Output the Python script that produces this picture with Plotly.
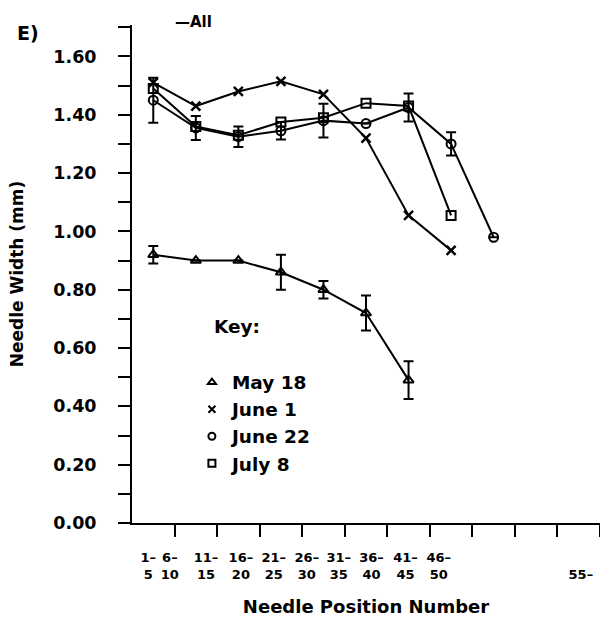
import plotly.graph_objects as go

# ---- data ----
categories = ["1-5", "6-10", "11-15", "16-20", "21-25", "26-30", "31-35",
              "36-40", "41-45", "46-50", "55-"]
tick_text = ["1\u2013<br>5", "6\u2013<br>10", "11\u2013<br>15", "16\u2013<br>20",
             "21\u2013<br>25", "26\u2013<br>30", "31\u2013<br>35", "36\u2013<br>40",
             "41\u2013<br>45", "46\u2013<br>50", " <br>55\u2013"]
# label positions as printed (scanned figure labels are compressed)
tick_label_pos = [0.38, 0.89, 1.74, 2.56, 3.33, 4.11, 4.86, 5.63, 6.43, 7.21, 10.55]

may18 = [0.92, 0.90, 0.90, 0.86, 0.80, 0.72, 0.49]
may18_err = [0.03, 0, 0, 0.06, 0.03, 0.06, 0.065]
june1 = [1.51, 1.43, 1.48, 1.515, 1.47, 1.32, 1.055, 0.935]
june22 = [1.45, 1.355, 1.325, 1.345, 1.38, 1.37, 1.425, 1.30, 0.98]
june22_err = [0.077, 0.041, 0.035, 0.03, 0.058, 0, 0.048, 0.04, 0]
july8 = [1.49, 1.36, 1.33, 1.375, 1.39, 1.44, 1.43, 1.055]

series = [
    ("May 18", may18, may18_err, "triangle-up-open"),
    ("June 1", june1, None, "x-thin-open"),
    ("June 22", june22, june22_err, "circle-open"),
    ("July 8", july8, None, "square-open"),
]

FONT = "DejaVu Sans"
fig = go.Figure()

for name, vals, err, sym in series:
    xs = [i + 0.5 for i in range(len(vals))]
    kw = {}
    if err is not None:
        kw["error_y"] = dict(type="data", array=err, visible=True,
                             color="black", thickness=2, width=5)
    fig.add_trace(go.Scatter(
        x=xs, y=vals, mode="lines+markers", name=name, showlegend=False,
        line=dict(color="black", width=2),
        marker=dict(symbol=sym, size=9, color="black",
                    line=dict(color="black", width=2.5 if sym.startswith("x") else 2)),
        **kw))
    # legend key entry (marker only)
    fig.add_trace(go.Scatter(
        x=[None], y=[None], mode="markers", name=name, showlegend=True,
        marker=dict(symbol=sym, size=7, color="black",
                    line=dict(color="black", width=2))))

fig.update_layout(
    width=600, height=619,
    margin=dict(l=132, r=0, t=25, b=96),
    paper_bgcolor="white", plot_bgcolor="white",
    font=dict(family=FONT, color="black", size=18, weight="bold"),
    showlegend=True,
    legend=dict(x=0.128, y=0.32, xanchor="left", yanchor="top",
                bgcolor="rgba(0,0,0,0)",
                font=dict(size=18.5, family=FONT, weight="bold"),
                itemclick=False),
    xaxis=dict(range=[0, 11.0], tickmode="array",
               tickvals=list(range(1, 12)), showticklabels=False,
               ticks="outside", ticklen=12, tickwidth=2, tickcolor="black",
               showline=True, linewidth=2, linecolor="black",
               showgrid=False, zeroline=False,
               title=dict(text="Needle Position Number", standoff=64,
                          font=dict(size=18, family=FONT, weight="bold"))),
    xaxis2=dict(range=[0, 11.0], overlaying="x", side="bottom",
                tickmode="array", tickvals=tick_label_pos, ticktext=tick_text,
                ticks="", ticklen=0, showline=False, showgrid=False,
                zeroline=False,
                tickfont=dict(size=13, family=FONT, weight="bold"),
                ticklabelstandoff=25),
    yaxis=dict(range=[0, 1.708], tickmode="linear", tick0=0, dtick=0.2,
               tickformat=".2f", ticks="outside", ticklen=12, tickwidth=2,
               tickcolor="black", showline=True, linewidth=2,
               linecolor="black", showgrid=False, zeroline=False,
               ticklabelstandoff=18,
               tickfont=dict(size=17.5, family=FONT, weight="bold"),
               minor=dict(dtick=0.1, ticks="outside", ticklen=12,
                          tickwidth=2, tickcolor="black", showgrid=False),
               title=dict(text="Needle Width (mm)", standoff=25,
                          font=dict(size=17, family=FONT, weight="bold"))),
)

# invisible trace to activate the label axis
fig.add_trace(go.Scatter(x=[None], y=[None], xaxis="x2", showlegend=False,
                         hoverinfo="skip"))

fig.add_annotation(text="E)", xref="paper", yref="paper",
                   x=-0.25, y=0.984, xanchor="left", yanchor="middle",
                   showarrow=False, font=dict(size=19, family=FONT, weight="bold"))
fig.add_annotation(text="\u2014All", xref="paper", yref="paper",
                   x=0.0876, y=1.007, xanchor="left", yanchor="middle",
                   showarrow=False, font=dict(size=15, family=FONT, weight="bold"))
fig.add_annotation(text="Key:", xref="paper", yref="paper",
                   x=0.171, y=0.395, xanchor="left", yanchor="middle",
                   showarrow=False, font=dict(size=18.5, family=FONT, weight="bold"))

fig.write_html("out.html")
